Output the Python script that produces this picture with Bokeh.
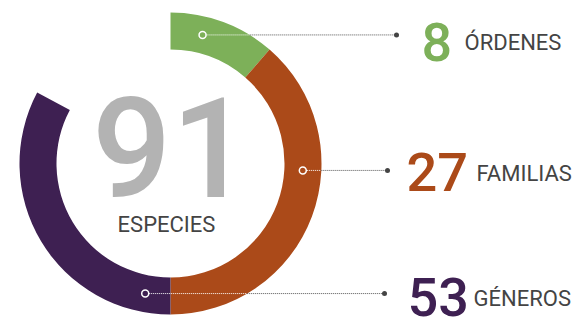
import math
from bokeh.plotting import figure
from bokeh.models import ColumnDataSource
from bokeh.core.properties import value
from bokeh.embed import file_html
from bokeh.resources import INLINE

# ---- data ----
categories = ["ÓRDENES", "FAMILIAS", "GÉNEROS"]
counts = [8, 27, 53]
total_label = "91"
total_name = "ESPECIES"
arc_spans_deg = [41, 139, 118]   # arc length of each segment
colors = ["#7db059", "#ab4a19", "#3e2052"]

# ---- layout ----
W, H = 580, 319
cx, cy = 170, 156
R_OUT, R_IN = 151, 114
start_deg = 90
marker_angles = [76, -3, -101]
line_end_x = [396, 387, 384]
num_x = [421, 406, 407]
lab_x = [464, 476, 473]
num_dy = [-7.5, -1.5, -3.5]     # cap-centre offset of number from the leader line
lab_dy = [-8, -3, -4.5]

p = figure(width=W, height=H, x_range=(0, W), y_range=(0, H),
           output_backend="svg", toolbar_location=None, min_border=0)
p.axis.visible = False
p.grid.visible = False
p.outline_line_color = None
p.background_fill_color = "white"
p.border_fill_color = "white"

# arcs
starts, ends = [], []
a = start_deg
for s in arc_spans_deg:
    starts.append(a)
    ends.append(a - s)
    a -= s
src = ColumnDataSource(dict(x=[cx] * 3, y=[cy] * 3, s=starts, e=ends, c=colors))
p.annular_wedge(x="x", y="y", inner_radius=R_IN, outer_radius=R_OUT,
                start_angle="s", end_angle="e", start_angle_units="deg",
                end_angle_units="deg", direction="clock", fill_color="c",
                line_color=None, source=src)

R_MID = (R_IN + R_OUT) / 2
for i in range(3):
    ang = math.radians(marker_angles[i])
    mx = cx + R_MID * math.cos(ang)
    my = cy + R_MID * math.sin(ang)
    dy = my - cy
    ex = cx + math.sqrt(R_OUT ** 2 - dy ** 2)
    p.line([mx, ex], [my, my], line_color="white", line_width=1, line_dash="1 1")
    p.line([ex, line_end_x[i]], [my, my], line_color="#555555", line_width=1, line_dash="1 1")
    p.scatter([mx], [my], size=7, fill_color=colors[i], line_color="white", line_width=1.5)
    p.scatter([line_end_x[i]], [my], size=5, fill_color="#444444", line_color=None)
    p.text([num_x[i]], [my + num_dy[i]], text=[str(counts[i])], text_font=value("Roboto Medium"),
           text_font_size="54px", text_color=colors[i],
           text_baseline="middle", text_align="left")
    p.text([lab_x[i]], [my + lab_dy[i]], text=[categories[i]], text_font=value("Roboto"),
           text_font_size="22px", text_color="#444444",
           text_baseline="middle", text_align="left")

p.text([171], [H - 146.5], text=[total_label], text_font=value("Roboto Medium"),
       text_font_size="140px", text_color="#b3b3b3", text_baseline="middle",
       text_align="center")
p.text([166], [H - 224], text=[total_name], text_font=value("Roboto"),
       text_font_size="22px", text_color="#444444", text_baseline="middle",
       text_align="center")

open("out.html", "w").write(file_html(p, INLINE))
